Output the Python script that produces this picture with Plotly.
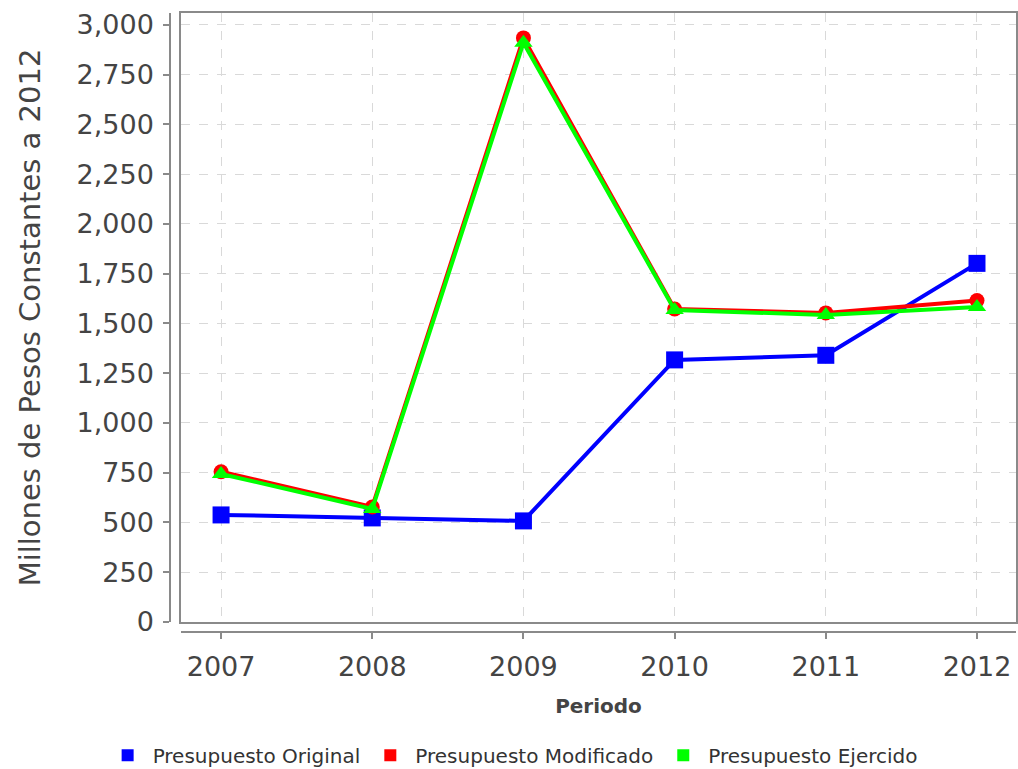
import plotly.graph_objects as go

years = [2007, 2008, 2009, 2010, 2011, 2012]
original = [538, 523, 508, 1317, 1340, 1802]
modificado = [755, 578, 2935, 1573, 1553, 1615]
ejercido = [744, 568, 2910, 1568, 1543, 1583]

names = ["Presupuesto Original", "Presupuesto Modificado", "Presupuesto Ejercido"]
colors = ["#0000ff", "#ff0000", "#00ff00"]
symbols = ["square", "circle", "triangle-up"]
msizes = [17, 15, 16]
series = [original, modificado, ejercido]

W, H = 1018, 769
left_px, plot_left, right_px = 170, 181, 1016
top_px, plot_bottom, axis_bottom = 13, 622, 632
pw = right_px - left_px
ph = axis_bottom - top_px

xr = [2006.735, 2012.258]
yr = [0, 3060]

fig = go.Figure()
for name, col, sym, ms, vals in zip(names, colors, symbols, msizes, series):
    fig.add_trace(go.Scatter(
        x=years, y=vals, mode="lines+markers", name=name, showlegend=False,
        line=dict(color=col, width=4),
        marker=dict(symbol=sym, size=ms, color=col),
        cliponaxis=False,
    ))
# legend entries (square swatches)
for name, col in zip(names, colors):
    fig.add_trace(go.Scatter(
        x=[None], y=[None], mode="markers", name=name,
        marker=dict(symbol="square", size=16, color=col),
    ))
# invisible trace to create the offset axes
fig.add_trace(go.Scatter(x=years, y=original, xaxis="x2", yaxis="y2",
                         mode="markers", marker=dict(opacity=0), showlegend=False,
                         hoverinfo="skip"))

grid = dict(showgrid=True, gridcolor="#d9d9d9", griddash="dash", gridwidth=1,
            zeroline=False, showticklabels=False, ticks="", automargin=False,
            showline=True, mirror=True, linecolor="#8a8a8a", linewidth=1.5)

tickfont = dict(family="DejaVu Sans", size=27, color="#444444")

fig.update_layout(
    width=W, height=H,
    margin=dict(l=left_px, r=W - right_px, t=top_px, b=H - axis_bottom, autoexpand=False),
    paper_bgcolor="white", plot_bgcolor="white",
    xaxis=dict(domain=[(plot_left - left_px) / pw, 1], range=xr,
               tickvals=years, **grid),
    yaxis=dict(domain=[(axis_bottom - plot_bottom) / ph, 1], range=yr,
               tickvals=list(range(0, 3001, 250)), **grid),
    xaxis2=dict(overlaying="x", anchor="free", position=0, range=xr,
                domain=[(plot_left - left_px) / pw, 1], automargin=False,
                tickvals=years, ticktext=[str(y) for y in years],
                showgrid=False, zeroline=False, showline=True,
                linecolor="#8a8a8a", linewidth=1.5,
                ticks="outside", ticklen=6, tickcolor="#8a8a8a", tickwidth=1.5,
                tickfont=tickfont, ticklabelstandoff=5,
                title=dict(text="<b>Periodo</b>", standoff=17,
                           font=dict(family="DejaVu Sans", size=20, color="#444444"))),
    yaxis2=dict(overlaying="y", anchor="free", position=0, range=yr,
                domain=[(axis_bottom - plot_bottom) / ph, 1], automargin=False,
                tickvals=list(range(0, 3001, 250)), tickformat=",d",
                showgrid=False, zeroline=False, showline=True,
                linecolor="#8a8a8a", linewidth=1.5,
                ticks="outside", ticklen=6, tickcolor="#8a8a8a", tickwidth=1.5,
                tickfont=tickfont, ticklabelstandoff=4,
                title=dict(text="Millones de Pesos Constantes a 2012", standoff=26,
                           font=dict(family="DejaVu Sans", size=29, color="#444444"))),
    legend=dict(orientation="h", x=0.405, xanchor="center", y=-0.199,
                yanchor="middle", font=dict(family="DejaVu Sans", size=20,
                                            color="#333333"),
                itemwidth=40, tracegroupgap=0, itemsizing="constant"),
    showlegend=True,
)

fig.write_html("out.html", config={"displayModeBar": False},
               post_script="document.body.style.margin='0';document.body.style.overflow='hidden';")
